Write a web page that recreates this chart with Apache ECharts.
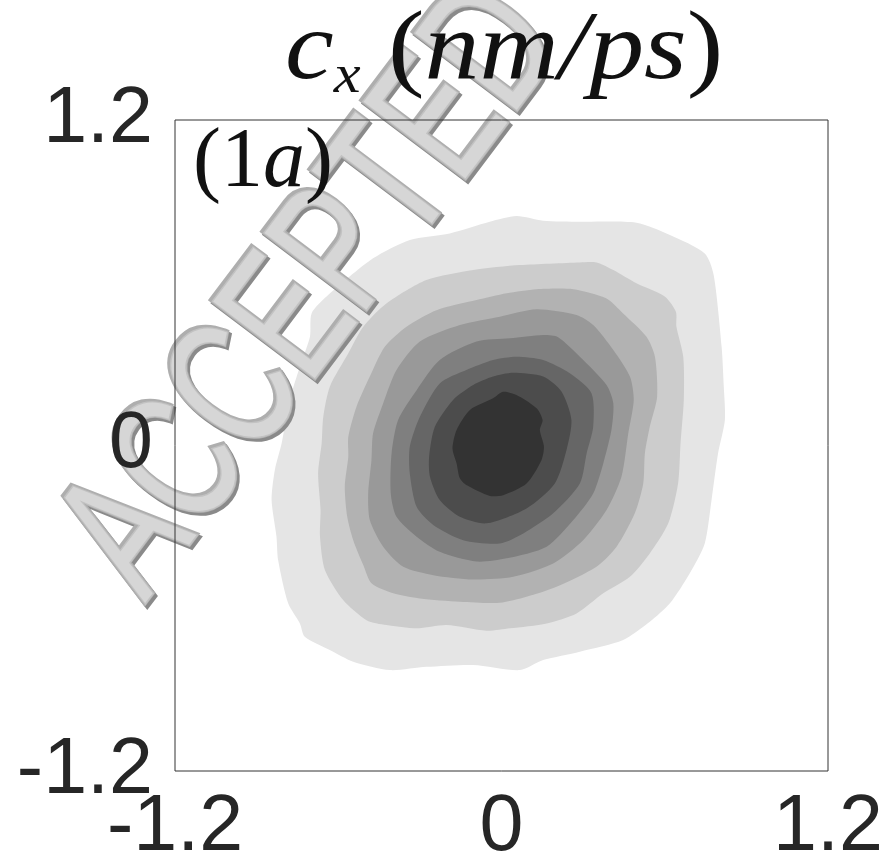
<!DOCTYPE html>
<html><head><meta charset="utf-8">
<style>html,body{margin:0;padding:0;background:#fff}#c{width:889px;height:862px}</style>
<script src="https://cdn.jsdelivr.net/npm/echarts@6/dist/echarts.min.js"></script>
</head><body><div id="c"></div>
<script>
var tickLabels={'-1.2':'-1.2','0':'0','1.2':'1.2'};
var levelColors=['#e5e5e5','#cccccc','#b2b2b2','#999999','#7f7f7f','#666666','#4c4c4c','#333333'];
var level1=[[.055,.846],[.153,.829],[.288,.825],[.496,.821],[.619,.776],[.747,.708],[.780,.628],[.809,.364],[.817,.217],[.821,.094],[.796,-.029],[.772,-.201],[.747,-.361],[.692,-.471],[.619,-.582],[.545,-.650],[.447,-.717],[.288,-.760],[.153,-.791],[.068,-.828],[-.104,-.809],[-.276,-.816],[-.410,-.828],[-.545,-.797],[-.631,-.754],[-.723,-.705],[-.741,-.656],[-.784,-.582],[-.821,-.422],[-.827,-.336],[-.845,-.201],[-.833,-.090],[-.808,.008],[-.778,.168],[-.741,.291],[-.704,.401],[-.698,.487],[-.643,.549],[-.472,.690],[-.337,.758],[-.190,.782],[-.043,.825]];
var level2=[[.068,.665],[.288,.675],[.349,.675],[.411,.647],[.496,.598],[.600,.549],[.641,.493],[.643,.438],[.668,.327],[.670,.168],[.658,.008],[.649,-.140],[.613,-.287],[.545,-.398],[.472,-.484],[.374,-.545],[.276,-.619],[.166,-.656],[.031,-.674],[-.055,-.683],[-.202,-.662],[-.312,-.674],[-.423,-.662],[-.496,-.644],[-.582,-.570],[-.649,-.459],[-.667,-.336],[-.665,-.238],[-.674,-.103],[-.661,.008],[-.655,.106],[-.631,.217],[-.563,.340],[-.508,.438],[-.422,.524],[-.276,.610],[-.104,.647]];
var level3=[[.019,.561],[.129,.576],[.264,.576],[.386,.542],[.447,.487],[.533,.401],[.564,.327],[.572,.180],[.545,.069],[.527,-.029],[.521,-.140],[.490,-.250],[.423,-.373],[.349,-.447],[.202,-.521],[.092,-.558],[-.006,-.580],[-.153,-.576],[-.300,-.564],[-.398,-.545],[-.478,-.508],[-.508,-.441],[-.545,-.349],[-.567,-.263],[-.576,-.152],[-.563,-.041],[-.563,.032],[-.533,.143],[-.484,.254],[-.429,.364],[-.349,.438],[-.239,.499],[-.092,.536]];
var level4=[[-.006,.475],[.129,.502],[.276,.481],[.337,.444],[.411,.352],[.472,.254],[.486,.168],[.466,.045],[.441,-.115],[.386,-.238],[.300,-.349],[.190,-.435],[.043,-.484],[-.104,-.494],[-.251,-.478],[-.361,-.447],[-.435,-.373],[-.484,-.275],[-.490,-.177],[-.478,-.054],[-.472,.045],[-.435,.155],[-.386,.278],[-.300,.383],[-.153,.444]];
var level5=[[.031,.395],[.153,.407],[.208,.399],[.288,.327],[.386,.223],[.411,.155],[.404,.057],[.374,-.066],[.337,-.177],[.264,-.275],[.166,-.373],[.019,-.416],[-.092,-.428],[-.227,-.392],[-.312,-.336],[-.386,-.263],[-.407,-.177],[-.404,-.029],[-.380,.094],[-.312,.204],[-.227,.315],[-.092,.383]];
var level6=[[-.031,.315],[.055,.327],[.153,.315],[.251,.266],[.331,.192],[.337,.069],[.313,-.029],[.288,-.140],[.190,-.250],[.080,-.324],[-.006,-.361],[-.141,-.349],[-.251,-.293],[-.312,-.226],[-.337,-.103],[-.337,-.004],[-.300,.106],[-.227,.229],[-.129,.278]];
var level7=[[-.031,.254],[.043,.268],[.153,.254],[.221,.198],[.257,.094],[.239,-.017],[.196,-.140],[.092,-.232],[-.055,-.287],[-.153,-.263],[-.227,-.201],[-.263,-.115],[-.266,-.041],[-.245,.069],[-.178,.168],[-.104,.223]];
var level8=[[-.031,.174],[.006,.198],[.055,.186],[.129,.137],[.151,.094],[.141,.057],[.156,-.004],[.147,-.054],[.092,-.140],[.006,-.183],[-.043,-.186],[-.129,-.146],[-.153,-.121],[-.165,-.066],[-.180,-.011],[-.165,.057],[-.116,.131]];
var levels=[level1,level2,level3,level4,level5,level6,level7,level8];

var wm='ACCEPTED',rot=53*Math.PI/180;
function wmLayer(dx,dy,col,lw,z){
  return {type:'text',x:315+dx,y:293+dy,rotation:rot,scaleX:.695,scaleY:1,z:z,silent:true,
    style:{text:wm,font:'185px "Liberation Sans"',fill:col,stroke:col,lineWidth:lw,lineJoin:'round',textAlign:'center',textVerticalAlign:'middle'}};
}
var chart=echarts.init(document.getElementById('c'),null,{renderer:'canvas'});
var labelStyle={fontSize:79,fontFamily:'"Liberation Sans"',color:'#262626'};
function fmt(v){var k=String(Math.round(v*10)/10);return tickLabels[k]||'';}
var serifI={fontFamily:'"Liberation Serif"',fontStyle:'italic',fontWeight:'normal',fill:'#111'};
var serifR={fontFamily:'"Liberation Serif"',fontWeight:'normal',fill:'#111'};
chart.setOption({
  animation:false,backgroundColor:'#fff',
  grid:{show:true,left:175,top:120,width:653,height:651,borderColor:'#333',borderWidth:1,backgroundColor:'transparent',z:10,outerBoundsMode:'none'},
  xAxis:{type:'value',min:-1.2,max:1.2,interval:1.2,z:10,axisLine:{show:false},axisTick:{show:false},splitLine:{show:false},
    axisLabel:Object.assign({margin:18,formatter:fmt,hideOverlap:false,showMinLabel:true,showMaxLabel:true},labelStyle)},
  yAxis:{type:'value',min:-1.2,max:1.2,interval:1.2,z:10,axisLine:{show:false},axisTick:{show:false},splitLine:{show:false},
    axisLabel:Object.assign({margin:22,formatter:fmt,showMinLabel:true,showMaxLabel:true},labelStyle)},
  series:[{type:'custom',z:1,clip:true,silent:true,coordinateSystem:'cartesian2d',
    data:levels.map(function(_,i){return [i];}),
    renderItem:function(p,api){
      var pts=levels[p.dataIndex].map(function(d){return api.coord(d);});
      return {type:'polygon',shape:{points:pts,smooth:.25},style:{fill:levelColors[p.dataIndex]}};
    }}],
  graphic:[
    wmLayer(1.5,2,'#8a8a8a',7,5),
    wmLayer(-1,-1,'#aeaeae',7,6),
    wmLayer(0,0,'#c2c2c2',3,7),
    wmLayer(0,0,'#d6d6d6',0,8),
    {type:'text',x:285,y:-1,scaleX:1.12,z:20,silent:true,style:{
      text:'{i|c}{s|x}{r| (}{i|nm/ps}{r|)}',fill:'#111',
      rich:{
        i:Object.assign({fontSize:98,lineHeight:106},serifI),
        r:Object.assign({fontSize:98,lineHeight:106},serifR),
        s:Object.assign({fontSize:54,lineHeight:52,verticalAlign:'bottom'},serifI)
      }}},
    {type:'text',x:193,y:122,z:20,silent:true,style:{
      text:'{r|(1}{i|a}{r|)}',fill:'#111',
      rich:{
        i:Object.assign({fontSize:84},serifI),
        r:Object.assign({fontSize:84},serifR)
      }}}
  ]
});
</script></body></html>
